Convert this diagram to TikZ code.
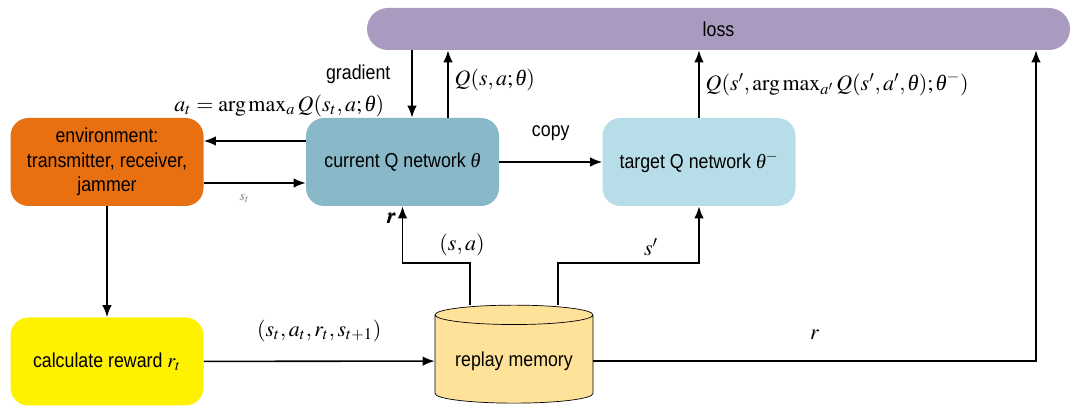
\documentclass[tikz,border=0pt]{standalone}
\usepackage{mathptmx}
\usepackage{bm}
\usepackage{fontspec}
\setmainfont{Liberation Sans}[FakeStretch=0.88]
\newfontfamily\grkfont{Liberation Serif}
\newcommand{\thq}{\mbox{\grkfont\itshape θ}}
\usetikzlibrary{shapes.geometric,arrows.meta}
\definecolor{lossviolet}{RGB}{169,154,191}
\definecolor{envorange}{RGB}{233,112,16}
\definecolor{curblue}{RGB}{137,184,200}
\definecolor{tgtblue}{RGB}{183,222,232}
\definecolor{memyellow}{RGB}{255,226,153}
\tikzset{
  blk/.style={rounded corners=0.36cm, minimum width=3.86cm, minimum height=1.76cm,
    align=center, font=\fontsize{11.5}{14}\selectfont},
  txt/.style={font=\fontsize{11.5}{14}\selectfont},
  lbl/.style={font=\fontsize{12.5}{14}\selectfont},
  arr/.style={-{Latex[length=2.4mm,width=1.9mm]}, line width=0.9pt}
}
\begin{document}
\begin{tikzpicture}
    \useasboundingbox (0,0) rectangle (21.46,8.32);
    % blocks
    \node[rounded corners=0.42cm, fill=lossviolet, minimum width=14.06cm, minimum height=0.84cm, txt] (loss) at (14.37,7.74) {loss};
    \node[blk, fill=envorange] (env) at (2.14,5.08) {environment:\\transmitter, receiver,\\jammer};
    \node[blk, fill=curblue] (cur) at (8.05,5.08) {current Q network $\thq$};
    \node[blk, fill=tgtblue] (tgt) at (13.98,5.08) {target Q network $\thq^{-}$};
    \node[blk, fill=yellow] (rew) at (2.14,1.09) {calculate reward $r_t$};
    \node[cylinder, shape border rotate=90, aspect=0.15, draw, fill=memyellow,
          minimum width=3.16cm, minimum height=1.96cm, txt] (mem) at (10.28,1.10) {replay memory};
    \coordinate (gx) at (8.24,0);
    \coordinate (qx) at (8.96,0);
    \coordinate (rx) at (20.72,0);
    % connectors
    \draw[arr] (loss.south -| gx) -- node[pos=0.35, left=0.3cm, txt] {gradient} (cur.north -| gx);
    \draw[arr] (cur.north -| qx) -- node[pos=0.56, right, lbl] {$Q(s,a;\thq)$} (loss.south -| qx);
    \draw[arr] (tgt.north) -- node[pos=0.5, right, lbl] {$Q(s',\arg\max_{a'} Q(s',a',\thq);\thq^{-})$} (tgt.north |- loss.south);
    \draw[arr] ([yshift=0.42cm]cur.west) -- node[xshift=0.49cm, yshift=0.7cm, lbl] {$a_t=\arg\max_a Q(s_t,a;\thq)$} ([yshift=0.42cm]env.east);
    \draw[arr] ([yshift=-0.42cm]env.east) -- node[pos=0.4, below=0.1cm, text=gray, font=\footnotesize] {$s_t$} ([yshift=-0.42cm]cur.west);
    \draw[arr] (cur) -- node[above=0.3cm, txt] {copy} (tgt);
    \draw[arr] (env) -- (rew);
    \draw[arr] (rew) -- node[above=0.25cm, lbl] {$(s_t,a_t,r_t,s_{t+1})$} (mem);
    \draw[arr] ([xshift=-0.88cm]mem.north) -- ++(0,0.84) node[above, xshift=-0.16cm, lbl] {$(s,a)$} -| (cur.south) node[below left, lbl] {$\bm{r}$};
    \draw[arr] ([xshift=0.88cm]mem.north) -- ++(0,0.84) -| node[pos=0.33, above, lbl] {$s'$} (tgt.south);
    \draw[arr] (mem.east) -| node[pos=0.25, above=0.3cm, lbl] {$r$} (loss.south -| rx);
\end{tikzpicture}
\end{document}
